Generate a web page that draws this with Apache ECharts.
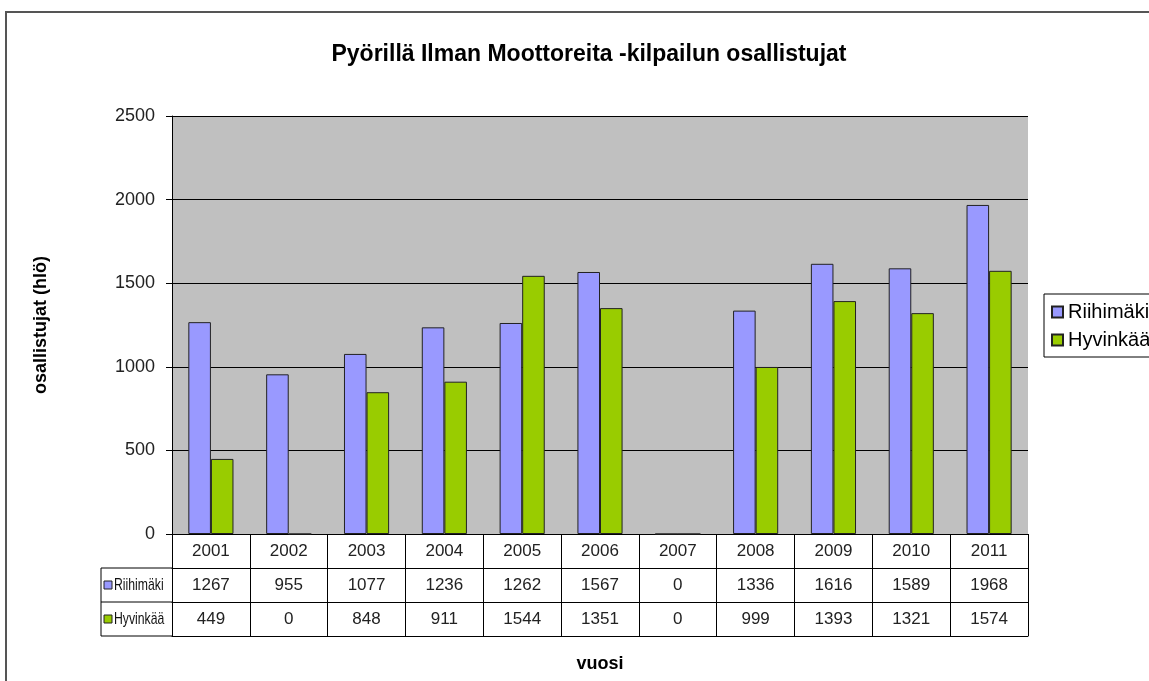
<!DOCTYPE html>
<html>
<head>
<meta charset="utf-8">
<script src="https://cdn.jsdelivr.net/npm/echarts@6/dist/echarts.min.js"></script>
<style>
  html, body { margin: 0; padding: 0; background: #fff; }
  #main { width: 1149px; height: 681px; }
</style>
</head>
<body>
<div id="main"></div>
<script>
// data
var years = ['2001', '2002', '2003', '2004', '2005', '2006', '2007', '2008', '2009', '2010', '2011'];
var riihimaki = [1267, 955, 1077, 1236, 1262, 1567, 0, 1336, 1616, 1589, 1968];
var hyvinkaa = [449, 0, 848, 911, 1544, 1351, 0, 999, 1393, 1321, 1574];
var yTicks = [0, 500, 1000, 1500, 2000, 2500];

var FONT = '"Liberation Sans", Arial, sans-serif';
var BLUE = '#9999FF', GREEN = '#99CC00', EDGE = '#222';

var myChart = echarts.init(document.getElementById('main'));

// table rows under the axis, each row 34px
function tableLabel(value, idx) {
	return '{c|' + value + '}\n{c|' + riihimaki[idx] + '}\n{c|' + hyvinkaa[idx] + '}';
}

// plain axes used only as horizontal table lines
function lineAxis(off) {
	return {
		type: 'category', data: years, position: 'bottom', offset: off,
		axisLine: { show: true, lineStyle: { color: '#000', width: 1 } },
		axisTick: { show: false }, axisLabel: { show: false }, splitLine: { show: false }
	};
}

// row header of the data table (text squeezed like in the original)
function rowHead(name, color, y) {
	return [
		{ type: 'rect', shape: { x: 104, y: y - 4, width: 8, height: 8 }, style: { fill: color, stroke: EDGE, lineWidth: 1 } },
		{ type: 'text', x: 114, y: y, scaleX: 0.72, originX: 0,
		  style: { text: name, font: '17px ' + FONT, fill: '#111', verticalAlign: 'middle' } }
	];
}

var option = {
	backgroundColor: '#fff',
	animation: false,
	textStyle: { fontFamily: FONT },
	title: {
		text: 'Pyörillä Ilman Moottoreita -kilpailun osallistujat',
		left: 584, top: 38, textAlign: 'center',
		textStyle: { fontSize: 23, fontWeight: 'bold', color: '#000', fontFamily: FONT }
	},
	legend: {
		orient: 'vertical', left: 1044, top: 294,
		padding: [8, 8, 7, 7], itemGap: 8,
		borderColor: '#000', borderWidth: 1,
		icon: 'rect', itemWidth: 11, itemHeight: 11,
		textStyle: { fontSize: 20, color: '#000', fontFamily: FONT, padding: [0, 0, 0, 0] },
		data: ['Riihimäki', 'Hyvinkää']
	},
	grid: {
		left: 172, top: 116, width: 856, height: 418,
		show: true, backgroundColor: '#C0C0C0', borderWidth: 0
	},
	xAxis: [
		{
			type: 'category', data: years,
			name: 'vuosi', nameLocation: 'middle', nameGap: 121,
			nameTextStyle: { fontSize: 18, fontWeight: 'bold', color: '#000', fontFamily: FONT },
			axisLine: { show: true, lineStyle: { color: '#000', width: 1 } },
			axisTick: { show: true, length: 102, alignWithLabel: false, lineStyle: { color: '#000' } },
			axisLabel: {
				margin: 0, interval: 0, formatter: tableLabel,
				rich: { c: { fontSize: 17, lineHeight: 34, height: 34, color: '#222', fontFamily: FONT, align: 'center' } }
			},
			splitLine: { show: false }
		},
		lineAxis(34), lineAxis(68), lineAxis(102)
	],
	yAxis: {
		type: 'value', min: yTicks[0], max: yTicks[yTicks.length - 1], interval: 500,
		name: 'osallistujat (hlö)', nameLocation: 'middle', nameGap: 122, nameRotate: 90,
		nameTextStyle: { fontSize: 18, fontWeight: 'bold', color: '#000', fontFamily: FONT },
		axisLine: { show: true, lineStyle: { color: '#000', width: 1 } },
		axisTick: { show: true, length: 6, lineStyle: { color: '#000' } },
		axisLabel: { fontSize: 18, color: '#222', margin: 17, fontFamily: FONT, formatter: function (v) { return String(v); } },
		splitLine: { show: true, lineStyle: { color: '#000', width: 1 } }
	},
	series: [
		{
			name: 'Riihimäki', type: 'bar', data: riihimaki,
			barGap: '0%', barCategoryGap: '42%',
			itemStyle: { color: BLUE, borderColor: EDGE, borderWidth: 1 }
		},
		{
			name: 'Hyvinkää', type: 'bar', data: hyvinkaa,
			barGap: '0%', barCategoryGap: '42%',
			itemStyle: { color: GREEN, borderColor: EDGE, borderWidth: 1 }
		}
	],
	graphic: [
		// chart frame
		{ type: 'rect', shape: { x: 6, y: 12, width: 1300, height: 800 }, style: { fill: 'none', stroke: '#555', lineWidth: 2 }, silent: true },
		// row header cells of the data table
		{ type: 'polyline', shape: { points: [[172, 568], [101, 568], [101, 636], [172, 636]] }, style: { fill: 'none', stroke: '#000', lineWidth: 1 } },
		{ type: 'line', shape: { x1: 101, y1: 602, x2: 172, y2: 602 }, style: { stroke: '#000', lineWidth: 1 } }
	].concat(rowHead('Riihimäki', BLUE, 585), rowHead('Hyvinkää', GREEN, 619))
};

myChart.setOption(option);
</script>
</body>
</html>
